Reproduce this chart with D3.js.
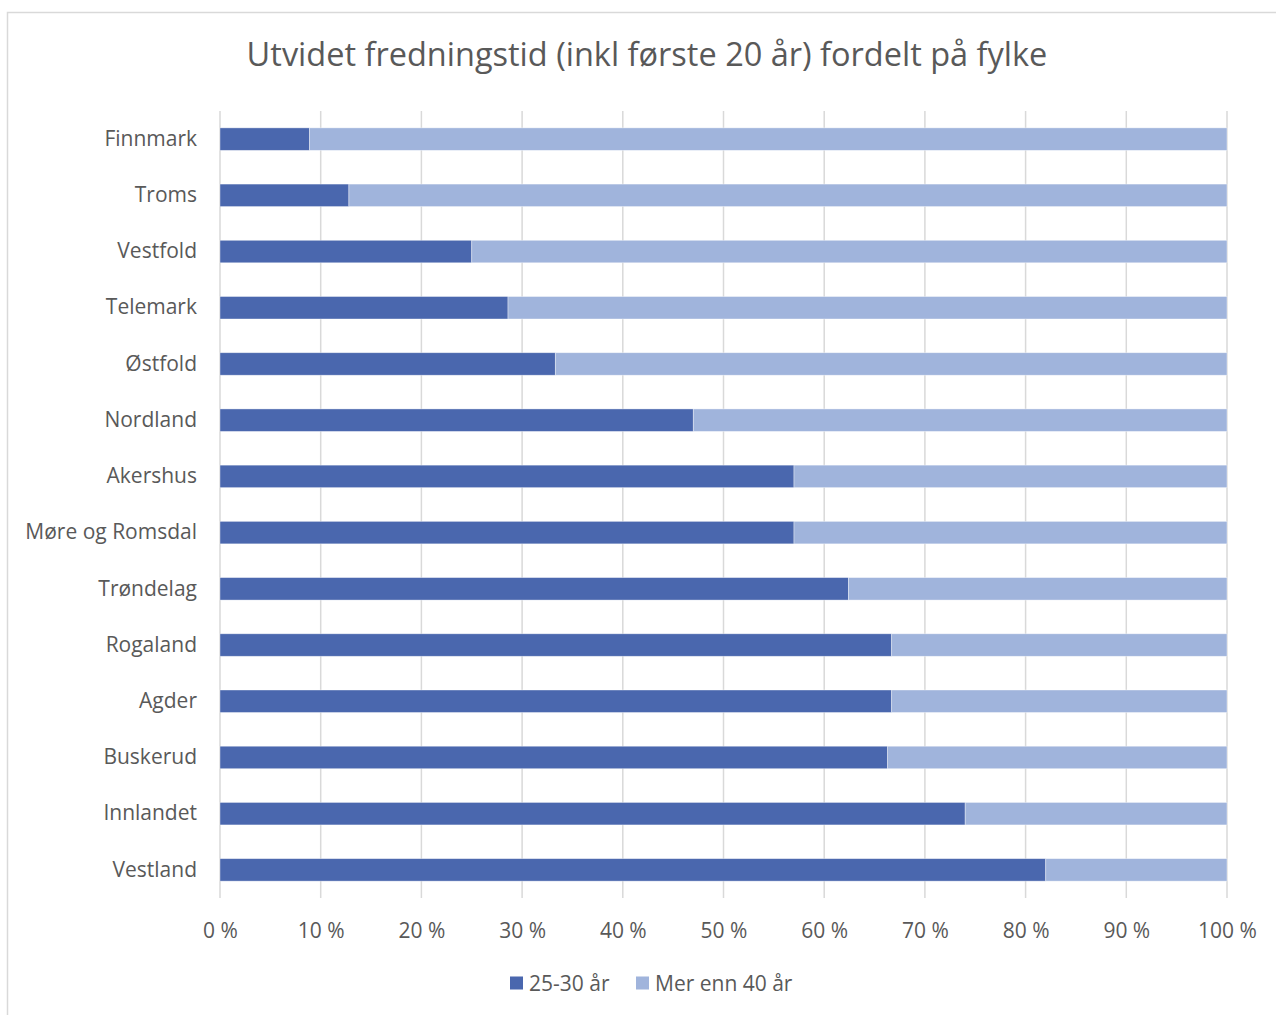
<!DOCTYPE html>
<html>
<head>
    <meta charset="utf-8">
    <title>Utvidet fredningstid</title>
    <script src="https://d3js.org/d3.v7.min.js"></script>
    <style>
        body { margin: 0; background: #fff; }
        text { font-family: "Open Sans", "Noto Sans", sans-serif; fill: #595959; }
    </style>
</head>
<body>
    <div id="chart"></div>
    <script>
        // fylker, top to bottom
        var counties = ["Finnmark", "Troms", "Vestfold", "Telemark", "Østfold", "Nordland", "Akershus",
            "Møre og Romsdal", "Trøndelag", "Rogaland", "Agder", "Buskerud", "Innlandet", "Vestland"];
        // share 25-30 år (%)
        var young = [8.9, 12.8, 25.0, 28.6, 33.3, 47.0, 57.0, 57.0, 62.4, 66.7, 66.7, 66.3, 74.0, 82.0];
        // share mer enn 40 år (%)
        var old = [91.1, 87.2, 75.0, 71.4, 66.7, 53.0, 43.0, 43.0, 37.6, 33.3, 33.3, 33.7, 26.0, 18.0];
        var seriesNames = ["25-30 år", "Mer enn 40 år"];
        var seriesColors = ["#4a67ae", "#a0b4dc"];
        var ticks = [0, 10, 20, 30, 40, 50, 60, 70, 80, 90, 100];

        var W = 1276, H = 1015;
        var margin = { top: 111, right: 49, bottom: 117, left: 220 };
        var width = W - margin.left - margin.right,
            height = H - margin.top - margin.bottom;

        var svg = d3.select("#chart").append("svg")
            .attr("width", W).attr("height", H);

        // outer frame
        svg.append("rect")
            .attr("x", 7.5).attr("y", 12.5)
            .attr("width", W).attr("height", H)
            .attr("fill", "none").attr("stroke", "#d9d9d9").attr("stroke-width", 1.5);

        svg.append("text")
            .attr("x", 647).attr("y", 66)
            .attr("text-anchor", "middle")
            .style("font-size", "32.5px")
            .text("Utvidet fredningstid (inkl første 20 år) fordelt på fylke");

        var g = svg.append("g").attr("transform", `translate(${margin.left},${margin.top})`);

        var x = d3.scaleLinear().domain([0, 100]).range([0, width]);
        var y = d3.scaleBand().domain(counties).range([0, height]).paddingInner(0.6).paddingOuter(0.3);

        // gridlines
        g.selectAll(".grid")
            .data(ticks)
            .enter().append("line")
            .attr("x1", d => x(d)).attr("x2", d => x(d))
            .attr("y1", 0).attr("y2", height)
            .attr("stroke", "#d9d9d9").attr("stroke-width", 1.5);

        // stacked bars
        var rows = counties.map((c, i) => ({ county: c, a: young[i], b: old[i] }));
        var stacked = d3.stack().keys(["a", "b"])(rows);

        g.selectAll(".series")
            .data(stacked)
            .enter().append("g")
            .attr("fill", (d, i) => seriesColors[i])
            .selectAll("rect")
            .data(d => d)
            .enter().append("rect")
            .attr("x", d => x(d[0]))
            .attr("width", d => x(d[1]) - x(d[0]))
            .attr("y", d => y(d.data.county))
            .attr("height", y.bandwidth())
            .attr("stroke", "#ffffff").attr("stroke-opacity", 0.5).attr("stroke-width", 0.75);

        // x axis
        var xAxis = g.append("g")
            .attr("transform", `translate(0,${height})`)
            .call(d3.axisBottom(x).tickValues(ticks).tickSize(0).tickPadding(25).tickFormat(d => d + " %"));
        xAxis.select(".domain").remove();
        xAxis.selectAll("text").style("font-size", "21px").attr("fill", "#595959");

        // y axis
        var yAxis = g.append("g")
            .call(d3.axisLeft(y).tickSize(0).tickPadding(23));
        yAxis.select(".domain").remove();
        yAxis.selectAll("text").style("font-size", "21px").attr("fill", "#595959");

        // legend
        var legend = svg.append("g").attr("transform", "translate(510,983)");
        var legendX = [0, 126];
        seriesNames.forEach((name, i) => {
            var item = legend.append("g").attr("transform", `translate(${legendX[i]},0)`);
            item.append("rect").attr("x", 0).attr("y", -6.5).attr("width", 13).attr("height", 13)
                .attr("fill", seriesColors[i]);
            item.append("text").attr("x", 19).attr("y", 7.5).style("font-size", "21px").text(name);
        });
    </script>
</body>
</html>
